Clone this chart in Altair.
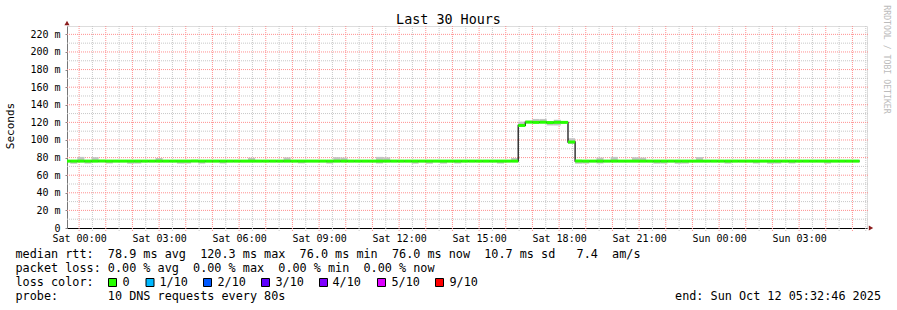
import altair as alt
import pandas as pd

# ---------------- data ----------------
# 16-minute bins, first bin starts 36 min before Sat 00:00
BIN_MINUTES = 16
FIRST_START_MIN = -36

median_ms = [
    76.0, 76.0, 76.0, 76.0, 76.0, 76.0, 76.0, 76.0, 76.0, 76.0, 76.0, 76.0, 76.0, 76.0, 76.0, 76.0,
    76.0, 76.0, 76.0, 76.0, 76.0, 76.0, 76.0, 76.0, 76.0, 76.0, 76.0, 76.0, 76.0, 76.0, 76.0, 76.0,
    76.0, 76.0, 76.0, 76.0, 76.0, 76.0, 76.0, 76.0, 76.0, 76.0, 76.0, 76.0, 76.0, 76.0, 76.0, 76.0,
    76.0, 76.0, 76.0, 76.0, 76.0, 76.0, 76.0, 76.0, 76.0, 76.0, 76.0, 76.0, 76.0, 76.0, 76.0, 76.0,
    116.5, 120.3, 120.0, 120.2, 119.8, 120.1, 120.0, 97.7, 76.0, 76.0, 76.0, 76.0, 76.0, 76.0, 76.0, 76.0,
    76.0, 76.0, 76.0, 76.0, 76.0, 76.0, 76.0, 76.0, 76.0, 76.0, 76.0, 76.0, 76.0, 76.0, 76.0, 76.0,
    76.0, 76.0, 76.0, 76.0, 76.0, 76.0, 76.0, 76.0, 76.0, 76.0, 76.0, 76.0, 76.0, 76.0, 76.0, 76.0,
]

smoke_hi = [
    77.3, 77.3, 80.8, 77.3, 80.5, 77.3, 77.3, 77.3, 77.3, 77.3, 77.3, 77.3, 77.3, 79.5, 77.3, 77.3,
    77.3, 77.3, 77.3, 77.3, 77.3, 77.3, 77.3, 77.3, 77.3, 77.3, 79.8, 77.3, 77.3, 77.3, 77.3, 80.2,
    77.3, 77.3, 77.3, 77.3, 77.3, 77.3, 80.5, 80.0, 77.3, 77.3, 77.3, 77.3, 80.8, 80.3, 77.3, 77.3,
    77.3, 77.3, 77.3, 77.3, 77.3, 77.3, 77.3, 77.3, 77.3, 77.3, 77.3, 77.3, 77.3, 77.3, 77.3, 79.5,
    120.8, 122.0, 123.9, 123.9, 121.6, 123.0, 121.6, 102.0, 77.3, 77.3, 77.3, 80.0, 77.3, 80.8, 77.3, 77.3,
    80.4, 80.0, 77.3, 77.3, 77.3, 77.3, 77.3, 77.3, 77.3, 80.6, 77.3, 77.3, 77.3, 77.3, 77.3, 77.3,
    77.3, 77.3, 77.3, 77.3, 77.3, 77.3, 77.3, 77.3, 77.3, 77.3, 77.3, 77.3, 77.3, 77.3, 77.3, 77.3,
]

smoke_lo = [
    74.8, 73.0, 74.8, 73.2, 74.8, 74.8, 73.3, 74.8, 74.8, 73.0, 73.2, 74.8, 74.8, 74.8, 74.8, 74.8,
    73.1, 73.3, 74.8, 73.2, 74.8, 74.8, 73.3, 74.8, 74.8, 74.8, 74.8, 74.8, 74.8, 74.8, 74.8, 74.8,
    74.8, 73.4, 74.8, 74.8, 74.8, 73.2, 74.8, 74.8, 74.8, 74.8, 74.8, 74.8, 73.3, 74.8, 74.8, 74.8,
    74.8, 73.1, 74.8, 73.0, 74.8, 73.2, 74.8, 73.3, 74.8, 74.8, 74.8, 74.8, 74.8, 73.2, 74.8, 74.8,
    115.2, 119.0, 119.0, 119.0, 116.5, 116.5, 119.0, 95.5, 73.0, 73.2, 74.8, 73.3, 74.8, 74.8, 74.8, 74.8,
    74.8, 74.8, 74.8, 73.1, 73.2, 74.8, 73.0, 73.2, 74.8, 74.8, 74.8, 74.8, 74.8, 73.2, 74.8, 74.8,
    74.8, 73.3, 74.8, 73.0, 73.2, 74.8, 73.3, 74.8, 74.8, 74.8, 74.8, 73.2, 74.8, 74.8, 74.8, 74.8,
]

x_tick_hours = [0, 3, 6, 9, 12, 15, 18, 21, 24, 27]
y_tick_values = [0, 20, 40, 60, 80, 100, 120, 140, 160, 180, 200, 220]
v_major = [h for h in range(0, 30)]
v_minor = [h + 0.5 for h in range(0, 30)]
h_major = [20, 40, 60, 80, 100, 120, 140, 160, 180, 200, 220]
h_minor = [10, 30, 50, 70, 90, 110, 130, 150, 170, 190, 210]

loss_colors = ["#26ff00", "#00b8ff", "#0059ff", "#5e00ff", "#7e00ff", "#dd00ff", "#ff0000"]
loss_labels = ["0", "1/10", "2/10", "3/10", "4/10", "5/10", "9/10"]

title_text = "Last 30 Hours"
legend_rows = [
    "median rtt:  78.9 ms avg  120.3 ms max  76.0 ms min  76.0 ms now  10.7 ms sd   7.4  am/s",
    "packet loss: 0.00 % avg  0.00 % max  0.00 % min  0.00 % now",
    "loss color:",
    "probe:       10 DNS requests every 80s",
]
end_text = "end: Sun Oct 12 05:32:46 2025"
watermark = "RRDTOOL / TOBI OETIKER"

X_DOMAIN = [-0.4539, 29.5461]
Y_DOMAIN = [0, 229.5]

# ---------------- build tables ----------------
n = len(median_ms)
starts = [(FIRST_START_MIN + BIN_MINUTES * i) / 60.0 for i in range(n)]
ends = [s + BIN_MINUTES / 60.0 for s in starts]
HALF_BAND = 1.7
bins = pd.DataFrame({
    "t": starts, "t2": ends, "med": median_ms, "lo": smoke_lo, "hi": smoke_hi,
    "glo": [m - HALF_BAND for m in median_ms], "ghi": [m + HALF_BAND for m in median_ms],
})
line_df = pd.DataFrame({"t": starts + [ends[-1]], "med": median_ms + [median_ms[-1]]})

MONO = "DejaVu Sans Mono"
xs = alt.Scale(domain=X_DOMAIN, nice=False, zero=False)
ys = alt.Scale(domain=Y_DOMAIN, nice=False, zero=False)
x_axis = alt.Axis(
    values=x_tick_hours, title=None, grid=False, ticks=False, domain=True,
    domainColor="#000000", domainWidth=1,
    labelExpr="(datum.value < 24 ? 'Sat ' : 'Sun ') + (datum.value % 24 < 10 ? '0' : '') + (datum.value % 24) + ':00'",
    labelFont=MONO, labelFontSize=10, labelColor="#000000", labelPadding=5,
    labelFlush=False, labelOverlap=False,
)
y_axis = alt.Axis(
    values=y_tick_values, title=None, grid=False, ticks=True, tickSize=2,
    tickColor="#888888", domain=True, domainColor="#777777", domainWidth=1,
    labelExpr="datum.value == 0 ? '0' : datum.value + ' m'",
    labelFont=MONO, labelFontSize=10, labelColor="#000000", labelPadding=5,
    labelOverlap=False, labelFlush=False,
)


def X(f):
    return alt.X(f, type="quantitative", scale=xs, axis=x_axis)


def Y(f):
    return alt.Y(f, type="quantitative", scale=ys, axis=y_axis)


layers = []
GRID_GRAY = "#c8c8c8"
GRID_RED = "#ff9090"

layers.append(alt.Chart(pd.DataFrame({"t": v_minor})).mark_rule(
    color=GRID_GRAY, strokeDash=[1, 1], strokeWidth=1).encode(
    x=X("t"), y=alt.value(0), y2=alt.value(205)))
layers.append(alt.Chart(pd.DataFrame({"t": v_major})).mark_rule(
    color=GRID_RED, strokeDash=[1, 1], strokeWidth=1).encode(
    x=X("t"), y=alt.value(0), y2=alt.value(205)))
layers.append(alt.Chart(pd.DataFrame({"v": h_minor})).mark_rule(
    color=GRID_GRAY, strokeDash=[1, 1], strokeWidth=1).encode(
    y=Y("v"), x=alt.value(0), x2=alt.value(801)))
layers.append(alt.Chart(pd.DataFrame({"v": h_major})).mark_rule(
    color=GRID_RED, strokeDash=[1, 1], strokeWidth=1).encode(
    y=Y("v"), x=alt.value(0), x2=alt.value(801)))

# smoke
layers.append(alt.Chart(bins).mark_rect(color="#c4c4c4", clip=True).encode(
    x=X("t"), x2="t2", y=Y("lo"), y2="hi"))
# thin dark median line
layers.append(alt.Chart(line_df).mark_line(
    interpolate="step-after", color="#1a1a1a", strokeWidth=1.3, clip=True).encode(
    x=X("t"), y=Y("med")))
# loss-coloured median band
layers.append(alt.Chart(bins).mark_rect(color=loss_colors[0], clip=True).encode(
    x=X("t"), x2="t2", y=Y("glo"), y2="ghi"))

one = pd.DataFrame({"a": [0]})
ARROW = "#8b1c1c"
layers.append(alt.Chart(one).mark_point(
    shape="triangle-up", filled=True, color=ARROW, size=26, opacity=1).encode(
    x=alt.value(0), y=alt.value(-3)))
layers.append(alt.Chart(one).mark_point(
    shape="triangle-right", filled=True, color=ARROW, size=26, opacity=1).encode(
    x=alt.value(804), y=alt.value(202)))


def txt(s, x, y, size=11.8, align="left", baseline="alphabetic", angle=0, color="#000000"):
    return alt.Chart(pd.DataFrame({"s": [s.replace(" ", "\u00a0")]})).mark_text(
        font=MONO, fontSize=size, align=align, baseline=baseline, angle=angle,
        color=color).encode(text="s:N", x=alt.value(x), y=alt.value(y))


layers.append(txt(title_text, 381.5, -2, size=13.4, align="center"))
layers.append(txt("Seconds", -56, 100, size=11, align="center", baseline="middle", angle=270))
layers.append(txt(watermark, 819, 33.5, size=8.2, align="center", baseline="middle",
                  angle=90, color="#bbbbbb"))

row_y = [232, 246, 260, 274]
for s, yy in zip(legend_rows, row_y):
    layers.append(txt(s, -51.5, yy))

box_left = [108, 145.5, 203, 261, 319, 377, 435]
label_left = [123, 160, 218, 276, 333, 392, 450]
for c, lab, bx, lx in zip(loss_colors, loss_labels, box_left, label_left):
    layers.append(alt.Chart(one).mark_rect(color=c, stroke="#000000", strokeWidth=1).encode(
        x=alt.value(bx - 67 + 0.5), x2=alt.value(bx - 67 + 8.5),
        y=alt.value(252.5), y2=alt.value(260.5)))
    layers.append(txt(lab, lx - 67 - 0.5, 260))

layers.append(txt(end_text, 814, 274, align="right"))

chart = alt.layer(*layers).properties(
    width=800, height=202,
    autosize=alt.AutoSizeParams(type="none"),
    padding={"left": 67, "top": 26, "right": 30, "bottom": 82},
).configure_view(stroke=None).configure(background="white")

chart.save("out.html", embed_options={"renderer": "svg", "actions": False})
